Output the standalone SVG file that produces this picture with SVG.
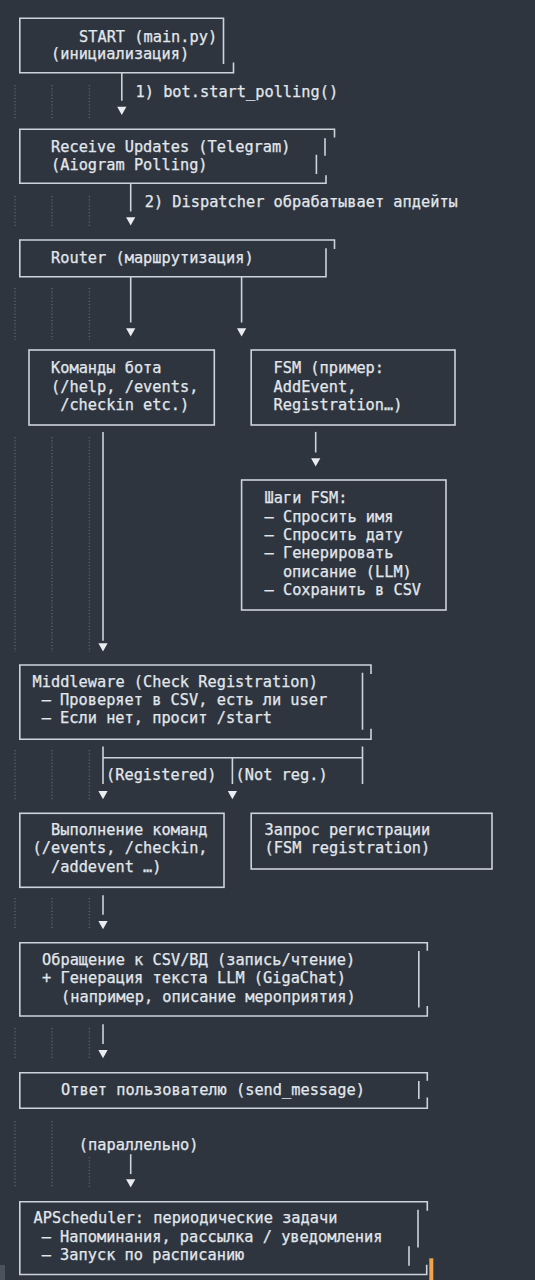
<svg xmlns="http://www.w3.org/2000/svg" xmlns:xlink="http://www.w3.org/1999/xlink" width="535" height="1280" viewBox="0 0 535 1280">
<style>
  .bg{fill:#2f353f}
  .t{font-family:"DejaVu Sans Mono","Liberation Mono",monospace;font-size:15.3px;fill:#e2e7ec;stroke:#e2e7ec;stroke-width:0.25}
  .ln{stroke:#cdd3da;stroke-width:1.6;fill:none;stroke-linecap:square}
  .dot{stroke:#59616c;stroke-width:1.4;stroke-dasharray:1.2 2;fill:none}
  .tri{fill:#e9edf1}
</style>
<defs>
  <path id="tri" d="M-4.6,0 L4.6,0 L0,8.2 Z"/>
</defs>
<rect class="bg" x="0" y="0" width="535" height="1280"/>

<g id="guides">
  <path class="dot" d="M15,85V120M52,85V120M89.4,85V120"/>
  <path class="dot" d="M15,196V228M52,196V228M89.4,196V228"/>
  <path class="dot" d="M15,288V340M52,288V340M89.4,288V340"/>
  <path class="dot" d="M15,437V652M52,437V652M89.4,437V652"/>
  <path class="dot" d="M15,750V800M52,750V800M89.4,750V800"/>
  <path class="dot" d="M15,898V930M52,898V930M89.4,898V930"/>
  <path class="dot" d="M15,1028V1059M52,1028V1059M89.4,1028V1059"/>
  <path class="dot" d="M15,1121V1188M52,1121V1188M89.4,1157V1188"/>
</g>

<g id="connectors">
  <path class="ln" d="M121.8,73V100"/>
  <use xlink:href="#tri" class="tri" x="121.8" y="106.7"/>
  <text class="t" x="135.5" y="96.7">1) bot.start_polling()</text>

  <path class="ln" d="M130.7,184V210.7"/>
  <use xlink:href="#tri" class="tri" x="130.7" y="217.3"/>
  <text class="t" x="144.7" y="207.3">2) Dispatcher обрабатывает апдейты</text>

  <path class="ln" d="M130.7,277V321.7M241.6,277V321.7"/>
  <use xlink:href="#tri" class="tri" x="130.7" y="328.3"/>
  <use xlink:href="#tri" class="tri" x="241.6" y="328.3"/>

  <path class="ln" d="M103,432.7V640"/>
  <use xlink:href="#tri" class="tri" x="103" y="643.3"/>
  <path class="ln" d="M315.7,432.7V451.7"/>
  <use xlink:href="#tri" class="tri" x="315.7" y="458.3"/>

  <path class="ln" d="M103,747.3V783.3M103,757.7H362.5M232.4,757.7V783.3M362.5,747.3V783.3"/>
  <text class="t" x="106" y="780">(Registered)</text>
  <text class="t" x="235.5" y="780">(Not reg.)</text>
  <use xlink:href="#tri" class="tri" x="103" y="791"/>
  <use xlink:href="#tri" class="tri" x="232.4" y="791"/>

  <path class="ln" d="M103,896V914"/>
  <use xlink:href="#tri" class="tri" x="103" y="921"/>

  <path class="ln" d="M103,1025V1043.3"/>
  <use xlink:href="#tri" class="tri" x="103" y="1050"/>

  <text class="t" x="78.8" y="1150">(параллельно)</text>
  <path class="ln" d="M130.7,1155V1173.3"/>
  <use xlink:href="#tri" class="tri" x="130.7" y="1179.3"/>
</g>

<g id="start">
  <path class="ln" d="M19.8,18.3H223.5V63.3M233.5,63.3V72.7H19.8V18.3"/>
  <text class="t" x="79" y="41.7">START (main.py)</text>
  <text class="t" x="51" y="59.3">(инициализация)</text>
</g>

<g id="receive">
  <path class="ln" d="M334.5,136.7V129.3H19.8V183.3H326V176M325,139V155M316.4,155.5V173.3"/>
  <text class="t" x="51" y="151.7">Receive Updates (Telegram)</text>
  <text class="t" x="51" y="170">(Aiogram Polling)</text>
</g>

<g id="router">
  <path class="ln" d="M334.5,248.3V240H19.8V276.7H326V249"/>
  <text class="t" x="51" y="262.7">Router (маршрутизация)</text>
</g>

<g id="commands">
  <rect class="ln" x="29" y="350" width="185.3" height="75"/>
  <text class="t" x="51" y="373.3">Команды бота</text>
  <text class="t" x="51" y="391.7">(/help, /events,</text>
  <text class="t" x="60.2" y="410">/checkin etc.)</text>
</g>

<g id="fsm">
  <rect class="ln" x="251.2" y="350" width="203.8" height="75"/>
  <text class="t" x="273.5" y="373.3">FSM (пример:</text>
  <text class="t" x="273.5" y="391.7">AddEvent,</text>
  <text class="t" x="273.5" y="410">Registration…)</text>
</g>

<g id="fsm-steps">
  <rect class="ln" x="241.6" y="480" width="204.4" height="130"/>
  <text class="t" x="264.5" y="503.3">Шаги FSM:</text>
  <text class="t" x="264.5" y="521.7">– Спросить имя</text>
  <text class="t" x="264.5" y="540">– Спросить дату</text>
  <text class="t" x="264.5" y="558.3">– Генерировать</text>
  <text class="t" x="282.9" y="576.7">описание (LLM)</text>
  <text class="t" x="264.5" y="595">– Сохранить в CSV</text>
</g>

<g id="middleware">
  <path class="ln" d="M371,673.3V665H19.8V739.3H371V729.5M362.5,673.5V729"/>
  <text class="t" x="32.5" y="686.7">Middleware (Check Registration)</text>
  <text class="t" x="41.7" y="705">– Проверяет в CSV, есть ли user</text>
  <text class="t" x="41.7" y="723.3">– Если нет, просит /start</text>
</g>

<g id="execute">
  <rect class="ln" x="19.8" y="813.3" width="204.2" height="74"/>
  <text class="t" x="51" y="835">Выполнение команд</text>
  <text class="t" x="32.6" y="853.3">(/events, /checkin,</text>
  <text class="t" x="51" y="871.7">/addevent …)</text>
</g>

<g id="registration">
  <rect class="ln" x="251.2" y="813.3" width="240.8" height="55.7"/>
  <text class="t" x="264.5" y="835">Запрос регистрации</text>
  <text class="t" x="264.5" y="853.3">(FSM registration)</text>
</g>

<g id="storage">
  <path class="ln" d="M427.3,950V942.7H19.8V1016H427.3V1006.7M418.8,951.7V1006.7"/>
  <text class="t" x="42" y="965">Обращение к CSV/ВД (запись/чтение)</text>
  <text class="t" x="42" y="983.3">+ Генерация текста LLM (GigaChat)</text>
  <text class="t" x="61" y="1001.7">(например, описание мероприятия)</text>
</g>

<g id="reply">
  <path class="ln" d="M427.3,1080V1072.7H19.8V1108.3H427.3V1098.3M418.8,1081.7V1098.3"/>
  <text class="t" x="61" y="1095">Ответ пользователю (send_message)</text>
</g>

<g id="scheduler">
  <path class="ln" d="M427.3,1210V1201.7H19.8V1274.5H426.7V1265.5M418,1210.5V1246.7M409,1247V1265"/>
  <text class="t" x="33.5" y="1223.3">APScheduler: периодические задачи</text>
  <text class="t" x="41.7" y="1241.7">– Напоминания, рассылка / уведомления</text>
  <text class="t" x="41.7" y="1260">– Запуск по расписанию</text>
</g>

<rect x="0" y="1265" width="5" height="15" fill="#4b525c"/>
<rect x="429.3" y="1258.3" width="4" height="21.7" fill="#f0a34b"/>
</svg>
